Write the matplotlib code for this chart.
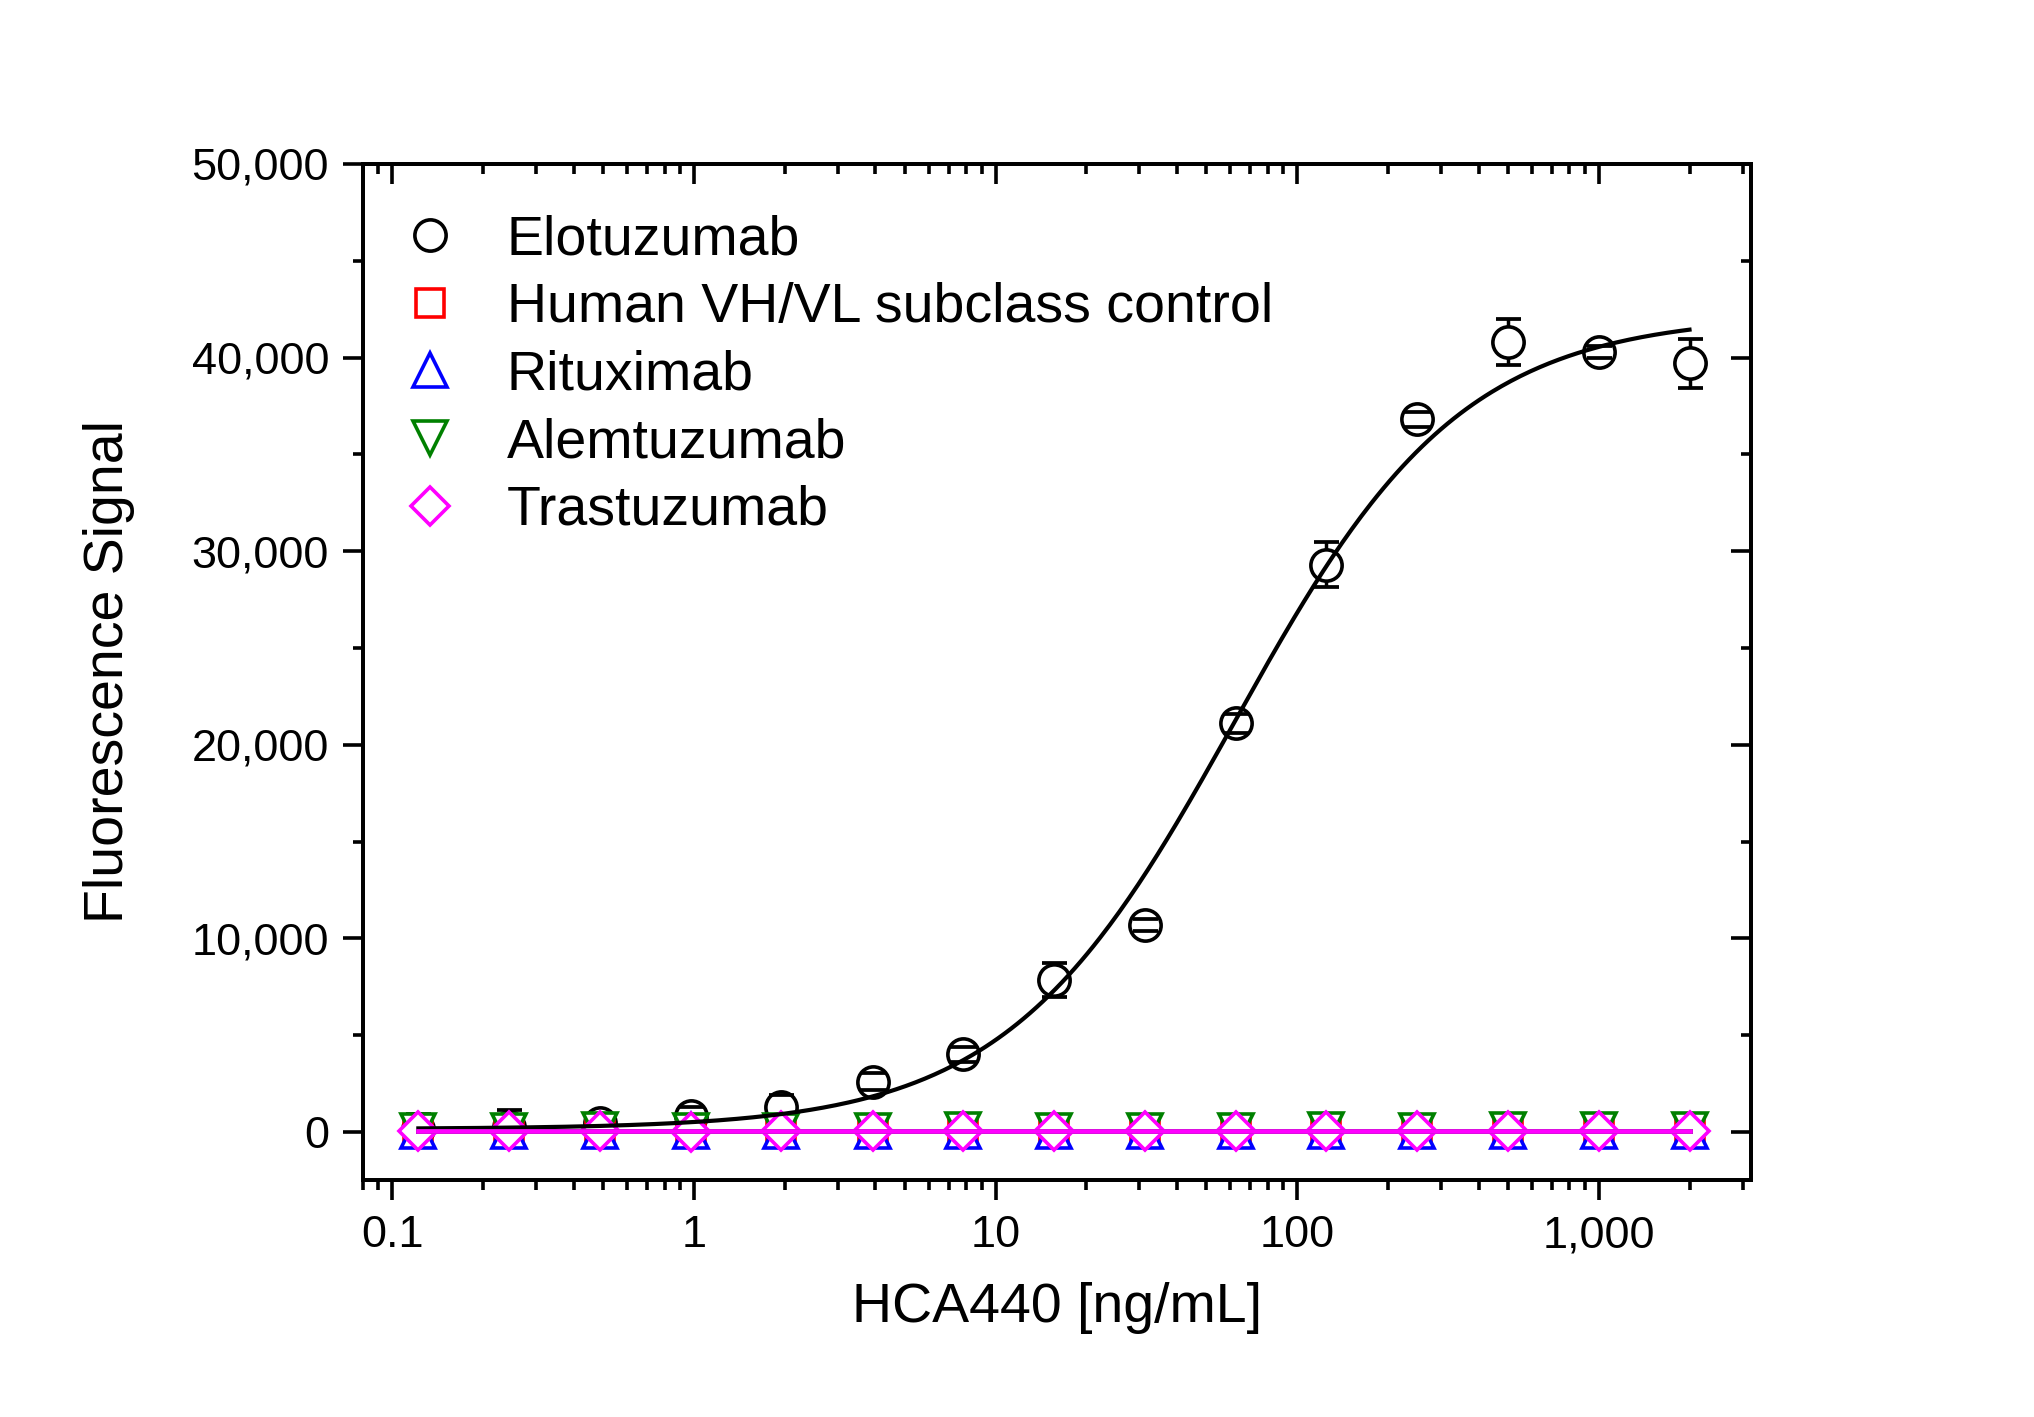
import numpy as np
import matplotlib
matplotlib.use("Agg")
import matplotlib.pyplot as plt
from matplotlib.ticker import FuncFormatter, MultipleLocator, LogLocator
from matplotlib.lines import Line2D

plt.rcParams['font.family'] = ['Liberation Sans', 'DejaVu Sans']

# ---------------- data ----------------
conc = [0.122, 0.244, 0.488, 0.977, 1.95, 3.91, 7.81, 15.6, 31.25, 62.5, 125, 250, 500, 1000, 2000]

elo_mean = [150, 230, 450, 800, 1300, 2600, 4000, 7850, 10700, 21100, 29300, 36800, 40800, 40300, 39700]
elo_err = [800, 900, 500, 500, 600, 450, 400, 870, 300, 500, 1150, 400, 1200, 300, 1250]

ctrl_vhvl = [60, 50, 70, 40, 60, 50, 70, 60, 50, 60, 70, 60, 50, 80, 70]
rituximab = [40, 50, 30, 40, 50, 40, 30, 40, 50, 40, 30, 40, 50, 60, 50]
alemtuzumab = [70, 60, 80, 70, 60, 70, 80, 70, 60, 70, 80, 70, 90, 80, 90]
trastuzumab = [30, 40, 30, 20, 40, 30, 30, 40, 30, 40, 30, 40, 50, 60, 70]

# 4-parameter logistic fit for Elotuzumab
fit_bottom = 150
fit_top = 42200
fit_ec50 = 62
fit_hill = 1.15

labels = ["Elotuzumab", "Human VH/VL subclass control", "Rituximab", "Alemtuzumab", "Trastuzumab"]
colors = ["black", "#FF0000", "#0000FF", "#008000", "#FF00FF"]
markers = ["o", "s", "^", "v", "D"]
msizes = [22.5, 20, 24, 24, 19]

# ---------------- figure ----------------
fig = plt.figure(figsize=(20.34, 14.17), dpi=100)
ax = fig.add_axes([0.1785, 0.1673, 0.8609 - 0.1785, 0.8843 - 0.1673])

x = np.array(conc)
mew = 2.6

# Elotuzumab error bars + markers
eb = ax.errorbar(x, elo_mean, yerr=elo_err, fmt='none', ecolor='black',
                 elinewidth=2.5, capsize=9, capthick=2.7, zorder=2)
for cl in eb[1]:
    cl.set_zorder(4)
ax.plot(x, elo_mean, linestyle='none', marker='o', ms=msizes[0], mfc='white',
        mec='black', mew=mew, zorder=3)

# control markers (white filled, stacked)
ctrl_sets = [ctrl_vhvl, rituximab, alemtuzumab, trastuzumab]
for i, vals in enumerate(ctrl_sets, start=1):
    ax.plot(x, vals, linestyle='none', marker=markers[i], ms=msizes[i], mfc='white',
            mec=colors[i], mew=mew, zorder=5 + i)

# Elotuzumab fit curve
xf = np.logspace(np.log10(x[0]), np.log10(x[-1]), 400)
yf = fit_bottom + (fit_top - fit_bottom) / (1 + (fit_ec50 / xf) ** fit_hill)
ax.plot(xf, yf, color='black', lw=3.0, zorder=11)

# control fits (flat)
for i, vals in enumerate(ctrl_sets, start=1):
    ax.plot([x[0], x[-1]], [np.mean(vals)] * 2, color=colors[i], lw=3.4, zorder=11 + i)

# ---------------- axes ----------------
ax.set_xscale('log')
ax.set_xlim(0.08, 3200)
ax.set_ylim(-2480, 50000)

ax.yaxis.set_major_locator(MultipleLocator(10000))
ax.yaxis.set_minor_locator(MultipleLocator(5000))
ax.xaxis.set_major_locator(LogLocator(base=10, numticks=20))
ax.xaxis.set_minor_locator(LogLocator(base=10, subs=np.arange(2, 10), numticks=20))

def xfmt(v, pos):
    if v >= 1:
        return f"{int(round(v)):,}"
    return f"{v:g}"

ax.xaxis.set_major_formatter(FuncFormatter(xfmt))
ax.yaxis.set_major_formatter(FuncFormatter(lambda v, p: f"{int(v):,}"))

for sp in ax.spines.values():
    sp.set_linewidth(2.6)

ax.tick_params(which='major', direction='out', length=14.5, width=2.6, labelsize=32.5)
ax.tick_params(which='minor', direction='out', length=7.5, width=2.6)
ax.tick_params(axis='x', which='major', pad=11)
ax.tick_params(axis='y', which='major', pad=10)

# top / right inward ticks
axt = ax.twiny()
axt.set_xscale('log')
axt.set_xlim(ax.get_xlim())
axt.xaxis.set_major_locator(LogLocator(base=10, numticks=20))
axt.xaxis.set_minor_locator(LogLocator(base=10, subs=np.arange(2, 10), numticks=20))
axt.tick_params(which='major', direction='in', length=14.5, width=2.6, labeltop=False)
axt.tick_params(which='minor', direction='in', length=7.5, width=2.6)
axt.set_zorder(-1)

axr = ax.twinx()
axr.set_ylim(ax.get_ylim())
axr.yaxis.set_major_locator(MultipleLocator(10000))
axr.yaxis.set_minor_locator(MultipleLocator(5000))
axr.tick_params(which='major', direction='in', length=14.5, width=2.6, labelright=False)
axr.tick_params(which='minor', direction='in', length=7.5, width=2.6)
axr.set_zorder(-1)
for a in (axt, axr):
    for sp in a.spines.values():
        sp.set_linewidth(2.6)
ax.patch.set_visible(False)

ax.set_xlabel("HCA440 [ng/mL]", fontsize=40)
ax.set_ylabel("Fluorescence Signal", fontsize=40)
ax.xaxis.set_label_coords(0.5, -0.100)
ax.yaxis.set_label_coords(-0.1645, 0.5)

# legend
handles = [Line2D([], [], linestyle='none', marker=m, ms=s, mfc='none', mec=c, mew=mew)
           for m, s, c in zip(markers, msizes, colors)]
ax.legend(handles, labels, loc='upper left', bbox_to_anchor=(0.028, 0.950),
          frameon=False, fontsize=40, handlelength=1.0, handletextpad=0.885,
          labelspacing=0.28, borderpad=0, borderaxespad=0)

fig.savefig("out.png", dpi=100, facecolor='white')
